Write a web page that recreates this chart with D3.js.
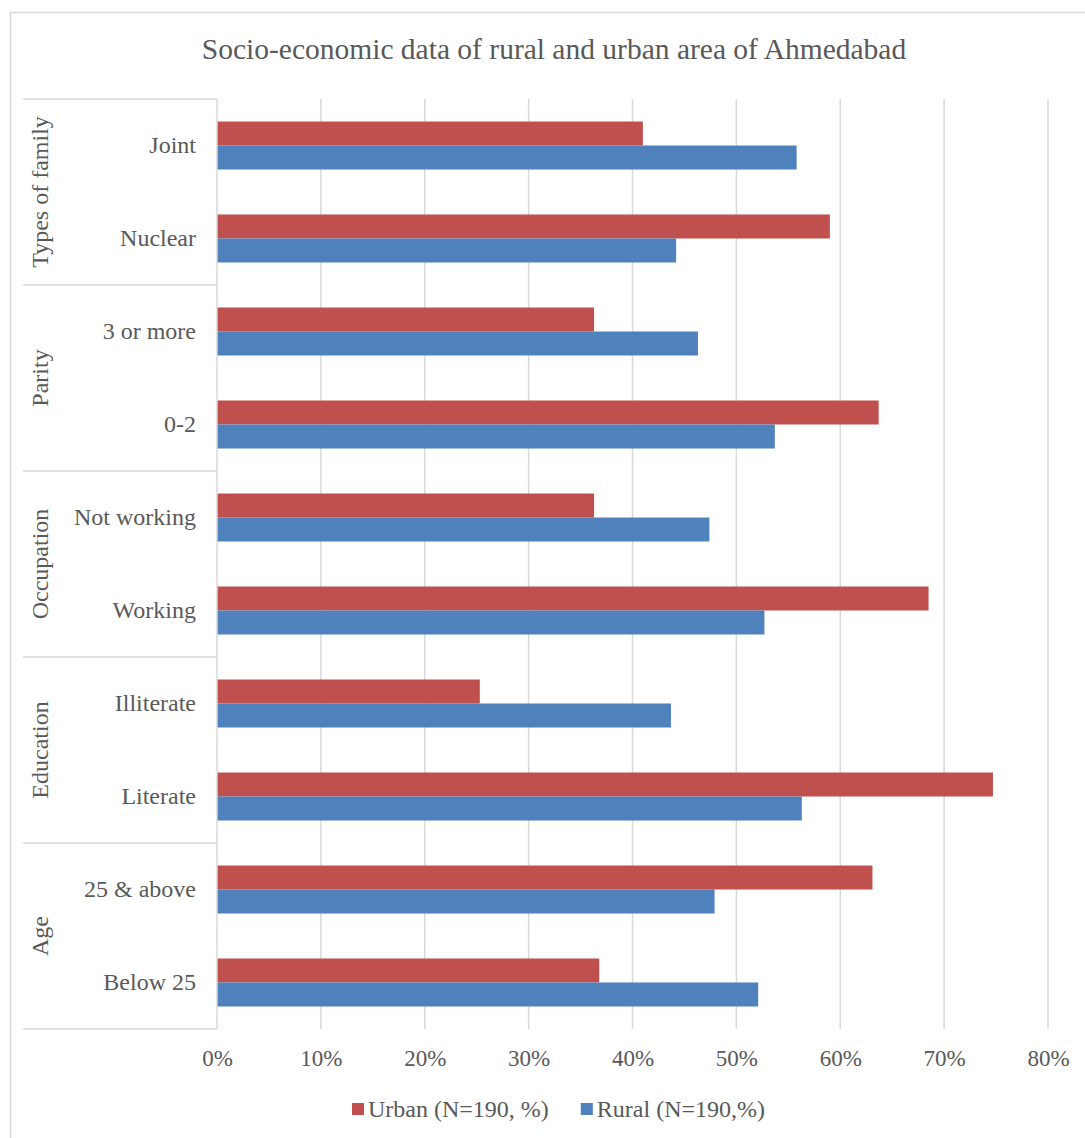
<!DOCTYPE html>
<html>
<head>
<meta charset="utf-8">
<script src="https://cdn.jsdelivr.net/npm/d3@7"></script>
<style>
  body { margin: 0; background: #fff; }
  svg text { font-family: "Liberation Serif", "Times New Roman", serif; fill: #595959; }
</style>
</head>
<body>
<svg id="chart" width="1085" height="1138"></svg>
<script>
// categories, top to bottom
var categories = ["Joint", "Nuclear", "3 or more", "0-2", "Not working", "Working",
                  "Illiterate", "Literate", "25 & above", "Below 25"];
var groups = ["Types of family", "Parity", "Occupation", "Education", "Age"];
var groupOf = ["Types of family", "Types of family", "Parity", "Parity", "Occupation", "Occupation",
               "Education", "Education", "Age", "Age"];
var seriesNames = ["Urban (N=190, %)", "Rural (N=190,%)"];
var urban = [41.0, 59.0, 36.3, 63.7, 36.3, 68.5, 25.3, 74.7, 63.1, 36.8];
var rural = [55.8, 44.2, 46.3, 53.7, 47.4, 52.7, 43.7, 56.3, 47.9, 52.1];
var xTicks = [0, 10, 20, 30, 40, 50, 60, 70, 80];
var colors = ["#C0504D", "#4F81BD"];

var svg = d3.select("#chart");
var plotLeft = 217, plotRight = 1048, plotTop = 99, plotBottom = 1029;

// outer chart border (runs off the right and bottom edge)
svg.append("rect")
  .attr("x", 10.5).attr("y", 12.5)
  .attr("width", 1100).attr("height", 1150)
  .attr("fill", "none").attr("stroke", "#D9D9D9").attr("stroke-width", 1.5);

svg.append("text")
  .attr("x", 554).attr("y", 59)
  .attr("text-anchor", "middle")
  .style("font-size", "29.5px")
  .text("Socio-economic data of rural and urban area of Ahmedabad");

var x = d3.scaleLinear().domain([0, 80]).range([plotLeft, plotRight]);
var y = d3.scaleBand().domain(categories).range([plotTop, plotBottom]).padding(0);
var ySub = d3.scaleBand().domain([0, 1]).range([0, y.bandwidth()])
  .paddingInner(0).paddingOuter(0.9375);

// gridlines
svg.append("g").selectAll("line")
  .data(xTicks.slice(1))
  .join("line")
  .attr("x1", d => x(d)).attr("x2", d => x(d))
  .attr("y1", plotTop).attr("y2", plotBottom)
  .attr("stroke", "#D9D9D9").attr("stroke-width", 1.5);

// bars
var rows = categories.map((c, i) => ({ cat: c, vals: [urban[i], rural[i]] }));
var rowG = svg.append("g").selectAll("g")
  .data(rows)
  .join("g")
  .attr("transform", d => "translate(0," + y(d.cat) + ")");
rowG.selectAll("rect")
  .data(d => d.vals.map((v, k) => ({ v: v, k: k })))
  .join("rect")
  .attr("x", x(0))
  .attr("y", d => ySub(d.k))
  .attr("width", d => x(d.v) - x(0))
  .attr("height", ySub.bandwidth())
  .attr("fill", d => colors[d.k]);

// axis line at 0
svg.append("line")
  .attr("x1", plotLeft).attr("x2", plotLeft)
  .attr("y1", plotTop).attr("y2", plotBottom)
  .attr("stroke", "#D9D9D9").attr("stroke-width", 1.5);

// x tick labels
var xAxis = svg.append("g")
  .attr("transform", "translate(0," + plotBottom + ")")
  .call(d3.axisBottom(x).tickValues(xTicks).tickFormat(d => d + "%").tickSize(0).tickPadding(21));
xAxis.select(".domain").remove();
xAxis.selectAll("text").style("font-size", "23px").attr("fill", "#595959");

// category labels
svg.append("g").selectAll("text")
  .data(categories)
  .join("text")
  .attr("x", 196)
  .attr("y", d => y(d) + y.bandwidth() / 2)
  .attr("dy", "0.33em")
  .attr("text-anchor", "end")
  .style("font-size", "24px")
  .text(d => d);

// group separators and labels
var groupSpans = groups.map(g => {
  var cats = categories.filter((c, i) => groupOf[i] === g);
  return { name: g, y0: y(cats[0]), y1: y(cats[cats.length - 1]) + y.bandwidth() };
});
svg.append("g").selectAll("line")
  .data([plotTop].concat(groupSpans.map(d => d.y1)))
  .join("line")
  .attr("x1", 23).attr("x2", plotLeft)
  .attr("y1", d => d).attr("y2", d => d)
  .attr("stroke", "#D9D9D9").attr("stroke-width", 1.5);
svg.append("g").selectAll("text")
  .data(groupSpans)
  .join("text")
  .attr("transform", d => "translate(40," + (d.y0 + d.y1) / 2 + ") rotate(-90)")
  .attr("dy", "0.35em")
  .attr("text-anchor", "middle")
  .style("font-size", "24px")
  .text(d => d.name);

// legend
var legend = svg.append("g");
var lx = 352;
seriesNames.forEach((name, k) => {
  legend.append("rect")
    .attr("x", lx).attr("y", 1103)
    .attr("width", 12).attr("height", 12)
    .attr("fill", colors[k]);
  var t = legend.append("text")
    .attr("x", lx + 16).attr("y", 1117)
    .style("font-size", "24px")
    .text(name);
  lx += 16 + t.node().getComputedTextLength() + 32;
});
</script>
</body>
</html>
